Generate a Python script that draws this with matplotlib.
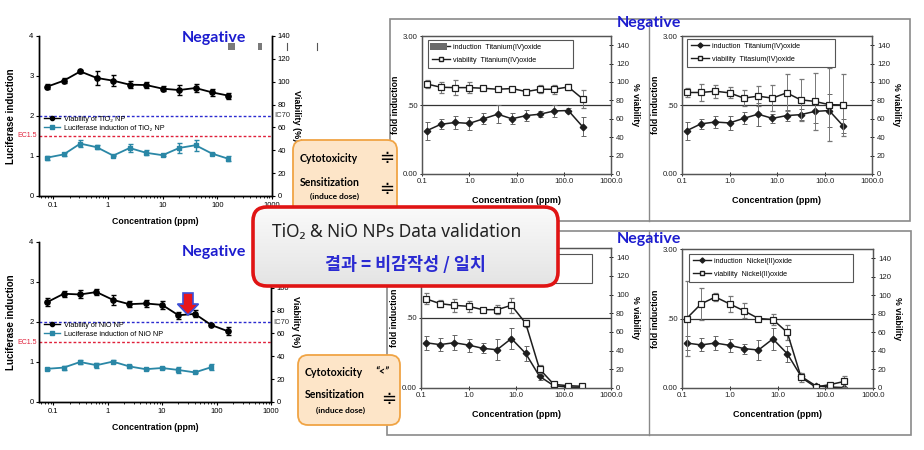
import numpy as np
import matplotlib
matplotlib.use('Agg')
import matplotlib.pyplot as plt
from matplotlib.patches import FancyBboxPatch, Rectangle, Polygon
from matplotlib.lines import Line2D
from matplotlib.ticker import FixedLocator, NullFormatter, LogLocator

plt.rcParams['font.family'] = ['Liberation Sans', 'DejaVu Sans']

# ---------------- data ----------------
# left (Prism-style) charts
conc_left = [0.078, 0.156, 0.3125, 0.625, 1.25, 2.5, 5, 10, 20, 40, 80, 160]
tio2_viab = [95.7, 100.9, 109.0, 103.3, 100.9, 97.4, 97.1, 93.9, 92.7, 94.5, 90.7, 87.8]
tio2_viab_err = [2.0, 2.0, 1.0, 5.8, 5.0, 3.0, 2.5, 2.0, 4.7, 3.6, 3.3, 2.5]
tio2_luc = [0.96, 1.04, 1.31, 1.22, 1.01, 1.20, 1.08, 1.02, 1.20, 1.27, 1.06, 0.93]
tio2_luc_err = [0.05, 0.04, 0.08, 0.05, 0.02, 0.10, 0.06, 0.03, 0.12, 0.14, 0.02, 0.06]

nio_viab = [87.4, 94.7, 94.1, 96.2, 89.4, 85.6, 86.2, 85.0, 75.9, 77.1, 67.4, 62.0]
nio_viab_err = [3.6, 2.5, 3.5, 2.5, 4.4, 2.5, 3.0, 3.5, 3.0, 3.0, 1.0, 3.2]
conc_left_luc_nio = [0.078, 0.156, 0.3125, 0.625, 1.25, 2.5, 5, 10, 20, 40, 80]
nio_luc = [0.83, 0.86, 1.00, 0.92, 1.01, 0.89, 0.82, 0.85, 0.80, 0.74, 0.87]
nio_luc_err = [0.03, 0.05, 0.04, 0.06, 0.04, 0.03, 0.03, 0.03, 0.07, 0.02, 0.08]

# right (Excel-style) charts
conc_right = [0.125, 0.25, 0.5, 1, 2, 4, 8, 16, 31.25, 62.5, 125, 250]
ti_ind = [0.94, 1.08, 1.12, 1.10, 1.20, 1.30, 1.20, 1.27, 1.30, 1.37, 1.38, 1.03]
ti_ind_err = [0.20, 0.11, 0.14, 0.15, 0.12, 0.19, 0.12, 0.12, 0.07, 0.13, 0.05, 0.21]
ti_via_a = [97.9, 94.3, 93.9, 93.9, 93.2, 92.1, 92.9, 89.6, 92.1, 92.1, 94.6, 81.8]
ti_via_a_err = [4.8, 6.0, 8.0, 6.0, 1.5, 1.5, 1.5, 3.0, 4.5, 4.6, 3.0, 10.0]
ti_ind_b = [0.94, 1.09, 1.13, 1.11, 1.21, 1.30, 1.21, 1.27, 1.29, 1.36, 1.38, 1.04]
ti_ind_b_err = [0.20, 0.11, 0.13, 0.15, 0.13, 0.25, 0.10, 0.12, 0.12, 0.25, 0.35, 0.15]
ti_via_b = [88.6, 88.6, 90.0, 88.2, 82.5, 84.6, 82.5, 88.2, 80.7, 78.9, 75.4, 75.0]
ti_via_b_err = [5.0, 9.0, 7.0, 6.0, 9.0, 11.0, 14.0, 20.0, 23.0, 31.0, 40.0, 34.0]

ni_ind = [0.97, 0.93, 0.97, 0.92, 0.85, 0.82, 1.06, 0.74, 0.25, 0.05, 0.02, 0.01]
ni_ind_err = [0.15, 0.14, 0.16, 0.14, 0.11, 0.22, 0.23, 0.17, 0.08, 0.02, 0.01, 0.01]
ni_via_a = [95.7, 90.4, 88.6, 87.5, 83.9, 83.9, 88.6, 69.3, 20.4, 3.9, 2.5, 1.8]
ni_via_a_err = [5.7, 3.7, 7.0, 5.7, 1.8, 4.5, 8.0, 3.5, 4.5, 2.5, 1.0, 1.0]
ni_via_b = [75.0, 90.7, 98.2, 90.7, 83.2, 75.0, 73.9, 60.0, 11.4, 1.1, 3.6, 7.1]
ni_via_b_err = [40.0, 17.0, 4.0, 8.5, 8.0, 1.5, 6.0, 8.0, 5.0, 1.0, 2.0, 6.0]

ti_labels = ['induction  Titanium(IV)oxide', 'viability  Titanium(IV)oxide']
ti_labels_b = ['induction  Titanium(IV)oxide', 'viability  Titasium(IV)oxide']
ni_labels = ['induction  Nickel(II)oxide', 'viability  Nickel(II)oxide']

W, H = 924, 450
fig = plt.figure(figsize=(9.24, 4.5), dpi=100)


def px_axes(x0, y0, x1, y1, **kw):
    return fig.add_axes([x0 / W, 1 - y1 / H, (x1 - x0) / W, (y1 - y0) / H], **kw)


# background frames for right panels
bg = px_axes(0, 0, W, H, zorder=0)
bg.set_xlim(0, W); bg.set_ylim(H, 0); bg.axis('off')
bg.add_patch(Rectangle((390, 19), 520, 202, fc='white', ec='#8a8a8a', lw=1.2))
bg.add_patch(Rectangle((387, 231), 524, 204, fc='white', ec='#8a8a8a', lw=1.2))
bg.plot([649, 649], [19, 221], color='#8a8a8a', lw=1.0)
bg.plot([649, 649], [231, 435], color='#8a8a8a', lw=1.0)

TEAL = '#2a87a6'


def left_chart(box, viab, viab_err, luc_conc, luc, luc_err, name):
    ax = px_axes(*box, zorder=1)
    ax.set_xscale('log')
    ax.set_xlim(0.055, 1000)
    ax.set_ylim(0, 4)
    ax2 = ax.twinx()
    ax2.set_ylim(0, 140)
    for a in (ax, ax2):
        a.spines['top'].set_visible(False)
        for s in ('left', 'right', 'bottom'):
            a.spines[s].set_linewidth(1.0)
    ax.axhline(2, color='#2a2ad0', ls=(0, (2, 1.5)), lw=1.0)
    ax.axhline(1.5, color='#e0203a', ls=(0, (2, 1.5)), lw=1.0)
    ax.errorbar(luc_conc, luc, yerr=luc_err, color=TEAL, marker='s', ms=3.5,
                lw=1.3, elinewidth=1.0, capsize=1.8, capthick=1.0)
    ax2.errorbar(conc_left, viab, yerr=viab_err, color='black', marker='o', ms=3.8,
                 lw=1.3, elinewidth=1.0, capsize=1.8, capthick=1.0)
    ax.set_yticks([0, 1, 2, 3, 4])
    ax.set_yticklabels(['0', '1', '2', '3', '4'])
    ax2.set_yticks(range(0, 141, 20))
    ax.set_xticks([0.1, 1, 10, 100, 1000])
    ax.set_xticklabels(['0.1', '1', '10', '100', '1000'])
    ax.xaxis.set_minor_locator(LogLocator(base=10, subs=np.arange(2, 10)))
    ax.xaxis.set_minor_formatter(NullFormatter())
    ax.tick_params(axis='both', labelsize=5.5, length=2.5, width=0.8, pad=1.5)
    ax.tick_params(axis='x', which='minor', length=1.5, width=0.6)
    ax2.tick_params(axis='y', labelsize=5.5, length=2.5, width=0.8, pad=1.5)
    ax.text(-0.12, 0.5, 'Luciferase induction', transform=ax.transAxes, rotation=90,
            ha='center', va='center', fontsize=7, fontweight='bold')
    ax.text(1.105, 0.5, 'Viability (%)', transform=ax.transAxes, rotation=270,
            ha='center', va='center', fontsize=6.5, fontweight='bold')
    ax.set_xlabel('Concentration (ppm)', fontsize=6.3, fontweight='bold', labelpad=6)
    ax.text(-0.01, 1.5, 'EC1.5', transform=ax.get_yaxis_transform(), color='#e0203a',
            ha='right', va='center', fontsize=5.0)
    ax2.text(1.01, 70, 'IC70', transform=ax2.get_yaxis_transform(), color='#333333',
             ha='left', va='center', fontsize=5.5,
             bbox=dict(fc='white', ec='none', pad=0.3))
    handles = [Line2D([], [], color='black', marker='o', ms=3, lw=1.0),
               Line2D([], [], color=TEAL, marker='s', ms=3, lw=1.0)]
    labels = ['Viability of %s NP' % name, 'Luciferase induction of %s NP' % name]
    ax2.legend(handles, labels, loc='upper left', bbox_to_anchor=(0.0, 0.535),
               frameon=False, fontsize=5.2, handlelength=2.2, labelspacing=0.3,
               borderpad=0.2, handletextpad=0.6)
    return ax, ax2


left_chart((39, 36, 272, 196), tio2_viab, tio2_viab_err, conc_left, tio2_luc,
           tio2_luc_err, 'TiO\u2082')
left_chart((39, 242, 271, 402), nio_viab, nio_viab_err, conc_left_luc_nio, nio_luc,
           nio_luc_err, 'NiO')

DARK = '#1e1e1e'


def right_panel(box, ind, ind_err, via, via_err, labels, leg_box, show_legend_text=True):
    ax = px_axes(*box, zorder=2)
    ax.set_xscale('log')
    ax.set_xlim(0.1, 1000)
    ax.set_ylim(0, 3)
    ax2 = ax.twinx()
    ax2.set_ylim(0, 150)
    for a in (ax, ax2):
        for s in a.spines.values():
            s.set_color('#555555')
            s.set_linewidth(0.9)
    ax.axhline(1.5, color='#333333', lw=0.9)
    ax.errorbar(conc_right, ind, yerr=ind_err, color=DARK, marker='D', ms=3.3,
                lw=1.1, ecolor='#666666', elinewidth=0.7, capsize=1.8, capthick=0.7)
    ax2.errorbar(conc_right, via, yerr=via_err, color=DARK, marker='s', ms=4.6,
                 mfc='white', mec=DARK, mew=0.9, lw=1.1, ecolor='#777777',
                 elinewidth=0.7, capsize=1.8, capthick=0.7)
    ax.set_yticks([0, 1.5, 3])
    ax.set_yticklabels(['0.00', '.50', '3.00'])
    ax2.set_yticks(range(0, 141, 20))
    ax.set_xticks([0.1, 1, 10, 100, 1000])
    ax.set_xticklabels(['0.1', '1.0', '10.0', '100.0', '1000.0'])
    ax.xaxis.set_minor_locator(FixedLocator([]))
    ax.tick_params(axis='both', labelsize=5.6, length=3, width=0.7, pad=1.5,
                   direction='inout', colors='#222222')
    ax2.tick_params(axis='y', labelsize=5.6, length=3, width=0.7, pad=2,
                    direction='inout', colors='#222222')
    ax.set_ylabel('fold induction', fontsize=6.3, fontweight='bold', labelpad=2)
    ax2.set_ylabel('% viability', fontsize=6.3, fontweight='bold', rotation=270,
                   labelpad=8)
    ax.set_xlabel('Concentration (ppm)', fontsize=6.5, fontweight='bold', labelpad=8)
    x0, y0, x1, y1 = leg_box
    bx0 = (x0 - box[0]) / (box[2] - box[0])
    bw = (x1 - x0) / (box[2] - box[0])
    btop = (box[3] - y0) / (box[3] - box[1])
    bbot = (box[3] - y1) / (box[3] - box[1])
    if show_legend_text:
        handles = [Line2D([], [], color=DARK, marker='D', ms=2.6, lw=1.0),
                   Line2D([], [], color=DARK, marker='s', ms=3.4, mfc='white', lw=1.0)]
        leg = ax2.legend(handles, labels, loc='upper left',
                         bbox_to_anchor=(bx0, btop - 0.4, bw, 0.4),
                         mode='expand', fontsize=5.1, handlelength=2.6, labelspacing=0.85,
                         borderpad=0.55, handletextpad=0.4, fancybox=False,
                         edgecolor='#555555', framealpha=1, borderaxespad=0.0)
        leg.get_frame().set_linewidth(0.8)
    else:
        # legend box whose contents are hidden behind the summary box
        ax2.add_patch(Rectangle((bx0, bbot), bw, btop - bbot, transform=ax2.transAxes,
                                fc='white', ec='#555555', lw=0.8, zorder=5))
    return ax, ax2


right_panel((422, 36, 611, 174), ti_ind, ti_ind_err, ti_via_a, ti_via_a_err,
            ti_labels, (428, 40, 573, 67))
right_panel((682, 36, 872, 174), ti_ind_b, ti_ind_b_err, ti_via_b, ti_via_b_err,
            ti_labels_b, (687, 39, 835, 67))
right_panel((421, 248, 611, 388), ni_ind, ni_ind_err, ni_via_a, ni_via_a_err,
            ni_labels, (423, 254, 592, 283), show_legend_text=False)
right_panel((682, 249, 873, 388), ni_ind, ni_ind_err, ni_via_b, ni_via_b_err,
            ni_labels, (689, 254, 853, 283))

# ---------------- overlay ----------------
ov = px_axes(0, 0, W, H, zorder=10)
ov.set_xlim(0, W); ov.set_ylim(H, 0); ov.axis('off')

# small grey artefacts
ov.add_patch(Rectangle((228, 43), 7, 7, fc='#7a7a7a', ec='none'))
ov.add_patch(Rectangle((258, 43), 4, 7, fc='#7a7a7a', ec='none'))
ov.plot([287, 287], [43, 50], color='#555555', lw=0.8)
ov.plot([317, 317], [43, 50], color='#555555', lw=0.8)
ov.add_patch(Rectangle((430, 43), 17, 7, fc='#6a6a6a', ec='none'))

NEG_BLUE = '#1c1ccf'
for (x, y) in [(182, 38), (182, 252), (617, 23), (617, 239)]:
    ov.text(x, y, 'Negative', color=NEG_BLUE, fontsize=11.5, fontweight='bold',
            family=['Lato', 'DejaVu Sans'], ha='left', va='center')

# orange boxes
OR_FC = '#fde5c8'
OR_EC = '#f0a445'
ov.add_patch(FancyBboxPatch((293, 140), 104, 75, boxstyle='round,pad=0,rounding_size=10',
                            fc=OR_FC, ec=OR_EC, lw=1.3))
ov.add_patch(FancyBboxPatch((298, 355), 102, 70, boxstyle='round,pad=0,rounding_size=10',
                            fc=OR_FC, ec=OR_EC, lw=1.3))
FF = ['Lato', 'DejaVu Sans']
ov.text(300, 158, 'Cytotoxicity', fontsize=7.6, fontweight='bold', family=FF, va='center')
ov.text(387, 158, '\u2251', fontsize=13, family=['DejaVu Sans'], ha='center', va='center')
ov.text(300, 182, 'Sensitization', fontsize=7.6, fontweight='bold', family=FF, va='center')
ov.text(387, 189, '\u2251', fontsize=13, family=['DejaVu Sans'], ha='center', va='center')
ov.text(335, 196, '(induce dose)', fontsize=6, fontweight='bold', family=FF,
        ha='center', va='center')

ov.text(305, 373, 'Cytotoxicity', fontsize=7.6, fontweight='bold', family=FF, va='center')
ov.text(382, 372, '\u201c<\u201d', fontsize=7.6, fontweight='bold', style='italic',
        family=FF, ha='center', va='center')
ov.text(305, 395, 'Sensitization', fontsize=7.6, fontweight='bold', family=FF, va='center')
ov.text(389, 399, '\u2251', fontsize=13, family=['DejaVu Sans'], ha='center', va='center')
ov.text(340, 410, '(induce dose)', fontsize=6, fontweight='bold', family=FF,
        ha='center', va='center')

# red summary box with light gradient
red_box = FancyBboxPatch((253, 207), 305, 79, boxstyle='round,pad=0,rounding_size=14',
                         fc='none', ec='#e01414', lw=2.6)
fill_box = FancyBboxPatch((253, 207), 305, 79, boxstyle='round,pad=0,rounding_size=14',
                          fc='#f2f2f2', ec='none')
ov.add_patch(fill_box)
grad = np.linspace(0, 1, 64).reshape(-1, 1)
im = ov.imshow(grad, extent=[253, 558, 286, 207], cmap=matplotlib.colors.LinearSegmentedColormap.from_list(
    'g', ['#fafafa', '#e4e4e4']), aspect='auto', zorder=2, interpolation='bilinear')
im.set_clip_path(fill_box)
red_box.set_zorder(3)
ov.add_patch(red_box)
ov.set_xlim(0, W); ov.set_ylim(H, 0)
ov.text(397, 232, 'TiO\u2082 & NiO NPs Data validation', fontsize=12.5,
        family=['Noto Sans', 'DejaVu Sans'], color='#222222', ha='center', va='center', zorder=4)
ov.text(405, 265, '결과 = 비감작성 / 일치', fontsize=12.5, fontweight='bold',
        family=['Noto Sans CJK KR', 'DejaVu Sans'], color='#2a2ad2', ha='center',
        va='center', zorder=4)

# red arrow
arrow = Polygon([(183, 293), (193, 293), (193, 304), (198.5, 304), (188, 315),
                 (177.5, 304), (183, 304)], closed=True, fc='#e8161b', ec='#3a50d8', lw=1.2)
ov.add_patch(arrow)

fig.savefig('out.png', dpi=100, facecolor='white')
